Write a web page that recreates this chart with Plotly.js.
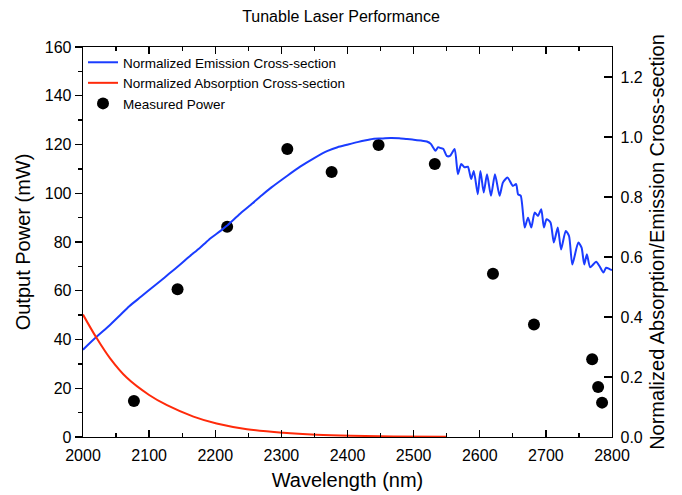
<!DOCTYPE html>
<html>
<head>
<meta charset="utf-8">
<script src="https://cdn.plot.ly/plotly-3.0.1.min.js"></script>
<style>html,body{margin:0;padding:0;background:#fff;}#chart{width:682px;height:495px;}</style>
</head>
<body>
<div id="chart"></div>
<script>
// Normalized emission cross-section (right axis)
var emWl = [2000,2020,2040,2056,2070,2088,2100,2117,2130,2147,2160,2177,2190,2208,2217,2238,2256,2270,2285,2309,2329,2349,2369,2385,2399,2415,2430,2440,2452,2465,2478,2490,2500,2511,2520,2526,2533,2537,2541,2545,2550,2555,2562,2567,2572,2577,2582,2587,2591,2597,2601,2606,2611,2617,2623,2630,2635,2642,2650,2655,2658,2662,2668,2673,2678,2683,2688,2693,2697,2701,2707,2712,2718,2723,2730,2735,2740,2749,2754,2758,2762,2767,2776,2781,2787,2791,2797,2800];
var emVal = [0.291,0.333,0.372,0.406,0.436,0.468,0.490,0.520,0.544,0.575,0.600,0.631,0.657,0.687,0.703,0.745,0.778,0.805,0.832,0.871,0.902,0.929,0.953,0.966,0.974,0.983,0.990,0.994,0.995,0.997,0.996,0.993,0.991,0.988,0.985,0.977,0.954,0.966,0.963,0.960,0.937,0.937,0.960,0.876,0.910,0.899,0.901,0.860,0.887,0.809,0.887,0.815,0.876,0.804,0.876,0.804,0.848,0.865,0.837,0.843,0.809,0.804,0.698,0.731,0.698,0.748,0.737,0.759,0.698,0.726,0.715,0.648,0.698,0.625,0.687,0.670,0.575,0.648,0.631,0.575,0.609,0.566,0.584,0.570,0.548,0.564,0.559,0.556];

// Normalized absorption cross-section (right axis)
var abWl = [2000,2020,2041,2066,2100,2127,2167,2202,2248,2303,2353,2405,2470,2550];
var abVal = [0.408,0.332,0.262,0.198,0.140,0.106,0.068,0.045,0.026,0.014,0.0075,0.004,0.002,0.001];

// Measured output power (left axis, mW)
var pwWl = [2077,2143,2218,2309,2376,2447,2532,2620,2682,2770,2779,2785];
var pwVal = [14.8,60.6,86.3,118.2,108.7,119.8,112.0,67.0,46.2,31.9,20.5,14.1];

var fontFam = 'Liberation Sans, Arial, sans-serif';

var traces = [
  {x: emWl, y: emVal, yaxis: 'y2', type: 'scatter', mode: 'lines',
   name: 'Normalized Emission Cross-section', line: {color: '#1a3cff', width: 2, shape: 'spline', smoothing: 0.6}},
  {x: abWl, y: abVal, yaxis: 'y2', type: 'scatter', mode: 'lines',
   name: 'Normalized Absorption Cross-section', line: {color: '#ff2a0a', width: 2, shape: 'spline', smoothing: 1}},
  {x: pwWl, y: pwVal, yaxis: 'y', type: 'scatter', mode: 'markers',
   name: 'Measured Power', marker: {color: '#000', size: 12}}
];

var layout = {
  width: 682, height: 495,
  margin: {l: 83, r: 70, t: 47, b: 58},
  paper_bgcolor: '#fff', plot_bgcolor: '#fff',
  font: {family: fontFam, color: '#000', size: 16},
  title: {text: 'Tunable Laser Performance', font: {size: 16, family: fontFam, color: '#000'}, x: 0.5, xanchor: 'center', y: 0.978, yanchor: 'top'},
  showlegend: true,
  legend: {x: 0.0, y: 1.0, xanchor: 'left', yanchor: 'top', bgcolor: 'rgba(0,0,0,0)', font: {size: 13.5, family: fontFam}, tracegroupgap: 0},
  xaxis: {
    range: [2000, 2800], dtick: 100, tick0: 2000,
    ticks: 'inside', ticklen: 7, tickwidth: 1.3, tickcolor: '#000',
    showline: true, linecolor: '#000', linewidth: 1.3, mirror: 'ticks',
    showgrid: false, zeroline: false,
    minor: {ticks: 'inside', dtick: 50, ticklen: 4, tickwidth: 1.3, tickcolor: '#000', showgrid: false},
    tickfont: {size: 16}, ticklabelstandoff: 3,
    title: {text: 'Wavelength (nm)', font: {size: 20}, standoff: 10}
  },
  yaxis: {
    range: [0, 160], dtick: 20, tick0: 0,
    ticks: 'outside', ticklen: 7, tickwidth: 1.3, tickcolor: '#000',
    showline: true, linecolor: '#000', linewidth: 1.3, mirror: true,
    showgrid: false, zeroline: false,
    minor: {ticks: 'outside', dtick: 10, ticklen: 4, tickwidth: 1.3, tickcolor: '#000', showgrid: false},
    tickfont: {size: 16},
    title: {text: 'Output Power (mW)', font: {size: 20}, standoff: 8}
  },
  yaxis2: {
    overlaying: 'y', side: 'right',
    range: [0, 1.3], dtick: 0.2, tick0: 0, tickformat: '.1f',
    ticks: 'inside', ticklen: 8, tickwidth: 1.3, tickcolor: '#000',
    showline: true, linecolor: '#000', linewidth: 1.3,
    showgrid: false, zeroline: false,
    tickfont: {size: 16}, ticklabelstandoff: 4,
    title: {text: 'Normalized Absorption/Emission Cross-section', font: {size: 20}, standoff: 8}
  }
};

Plotly.newPlot('chart', traces, layout, {displayModeBar: false, staticPlot: true});
</script>
</body>
</html>
